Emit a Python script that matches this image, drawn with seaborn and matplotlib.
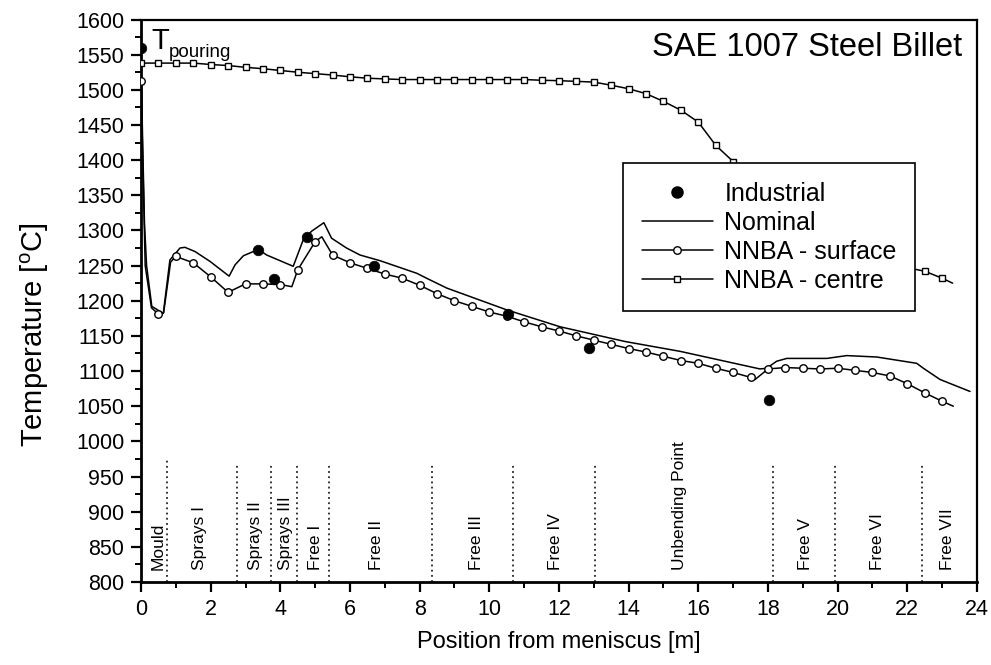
import numpy as np
import pandas as pd
import matplotlib
matplotlib.use("Agg")
import matplotlib.pyplot as plt
from matplotlib.lines import Line2D
import seaborn as sns

# ---------------- data ----------------
industrial_x = [0.0, 3.37, 3.82, 4.77, 6.70, 10.53, 12.85, 18.04]
industrial_T = [1559, 1272, 1231, 1290, 1250, 1181, 1133, 1059]

nominal_x = [0.0, 0.05, 0.10, 0.16, 0.31, 0.64, 0.83, 1.12, 1.26, 1.55, 1.98, 2.53,
             2.70, 2.94, 3.37, 3.61, 4.37, 4.66, 4.90, 5.25, 5.47, 5.90, 6.29, 6.86,
             7.92, 8.20, 8.78, 10.50, 12.03, 13.90, 15.48, 17.77, 17.96, 18.25, 18.54,
             19.69, 20.26, 21.12, 22.27, 22.46, 22.94, 23.80]
nominal_T = [1540, 1420, 1310, 1250, 1192, 1182, 1258, 1275, 1276, 1270, 1256, 1235,
             1251, 1264, 1273, 1265, 1249, 1287, 1299, 1311, 1289, 1275, 1265, 1257,
             1239, 1232, 1218, 1187, 1163, 1142, 1128, 1103, 1104, 1114, 1118,
             1118, 1122, 1120, 1111, 1104, 1088, 1071]

surface_x = [0.0, 0.12, 0.30, 0.5, 0.65, 0.85, 1.0, 1.5, 2.0, 2.5, 3.0, 3.5, 4.0, 4.33,
             4.5, 5.0, 5.19, 5.5, 6.0, 6.5, 7.0, 7.5, 8.0, 8.5, 9.0, 9.5, 10.0, 10.5,
             11.0, 11.5, 12.0, 12.5, 13.0, 13.5, 14.0, 14.5, 15.0, 15.5, 16.0, 16.5,
             17.0, 17.5, 17.63, 18.0, 18.5, 19.0, 19.5, 20.0, 20.5, 21.0, 21.5, 22.0,
             22.5, 23.0, 23.32]
surface_T = [1512, 1250, 1190, 1181, 1183, 1255, 1263, 1254, 1234, 1212, 1224, 1224, 1223, 1220,
             1244, 1284, 1291, 1265, 1254, 1246, 1238, 1232, 1222, 1210, 1200, 1192, 1184, 1178,
             1170, 1163, 1157, 1150, 1144, 1138, 1132, 1127, 1121, 1115, 1111, 1104,
             1098, 1091, 1088, 1103, 1105, 1104, 1103, 1104, 1101, 1098, 1093, 1082,
             1069, 1057, 1050]

centre_x = [0.0, 0.5, 1.0, 1.5, 2.0, 2.5, 3.0, 3.5, 4.0, 4.5, 5.0, 5.5, 6.0, 6.5, 7.0,
            7.5, 8.0, 8.5, 9.0, 9.5, 10.0, 10.5, 11.0, 11.5, 12.0, 12.5, 13.0, 13.5,
            14.0, 14.5, 15.0, 15.5, 16.0, 16.5, 17.0, 17.5, 18.0, 18.5, 19.0, 19.5,
            20.0, 20.5, 21.0, 21.5, 22.0, 22.5, 23.0, 23.3]
centre_T = [1538, 1538, 1538, 1538, 1536, 1534.5, 1532, 1530, 1527.5, 1525, 1523, 1521,
            1518.5, 1516.5, 1515.5, 1514.6, 1514.6, 1514.6, 1514.6, 1514.6, 1514.6, 1514.6,
            1514.6, 1513.6, 1513, 1512, 1511, 1506.5, 1501.5, 1494.5, 1483.5, 1471, 1454,
            1421, 1398, 1370, 1345, 1322, 1303, 1288, 1276, 1266, 1258, 1252, 1247, 1242,
            1232, 1225]

zone_bounds = [0.76, 2.77, 3.72, 4.47, 5.40, 8.36, 10.69, 13.02, 18.14, 19.93, 22.43]
zone_labels = ["Mould", "Sprays I", "Sprays II", "Sprays III", "Free I", "Free II",
               "Free III", "Free IV", "Unbending Point", "Free V", "Free VI", "Free VII"]
zone_label_x = [0.50, 1.69, 3.30, 4.16, 5.01, 6.77, 9.64, 11.89, 15.46, 19.08, 21.15, 23.16]

# ---------------- style ----------------
sns.set_theme(style="ticks")
plt.rcParams["font.family"] = ["Liberation Sans", "DejaVu Sans"]
plt.rcParams["mathtext.fontset"] = "custom"
plt.rcParams["mathtext.rm"] = "Liberation Sans"
plt.rcParams["mathtext.it"] = "Liberation Sans:italic"
plt.rcParams["text.color"] = "black"
plt.rcParams["axes.labelcolor"] = "black"
plt.rcParams["xtick.color"] = "black"
plt.rcParams["ytick.color"] = "black"
plt.rcParams["axes.edgecolor"] = "black"

fig = plt.figure(figsize=(9.91, 6.65), dpi=100)
ax = fig.add_axes([141 / 991, 1 - 582 / 665, 836 / 991, 562.5 / 665])

df_nom = pd.DataFrame({"x": nominal_x, "T": nominal_T})
df_sur = pd.DataFrame({"x": surface_x, "T": surface_T})
df_cen = pd.DataFrame({"x": centre_x, "T": centre_T})
df_ind = pd.DataFrame({"x": industrial_x, "T": industrial_T})

lw = 1.1
circ_ms = 5.4
sq_ms = 4.7
sns.lineplot(data=df_nom, x="x", y="T", ax=ax, color="black", linewidth=lw,
             sort=False, estimator=None)
sns.lineplot(data=df_sur, x="x", y="T", ax=ax, color="black", linewidth=lw,
             sort=False, estimator=None)
sns.lineplot(data=df_cen, x="x", y="T", ax=ax, color="black", linewidth=lw,
             sort=False, estimator=None)

sur_mark = df_sur[np.isclose(df_sur["x"] * 2, np.round(df_sur["x"] * 2)) & (df_sur["x"] <= 23.0)]
cen_mark = df_cen[np.isclose(df_cen["x"] * 2, np.round(df_cen["x"] * 2)) & (df_cen["x"] <= 23.0)]
ax.plot(sur_mark["x"], sur_mark["T"], linestyle="none", marker="o", markersize=circ_ms,
        markerfacecolor="white", markeredgecolor="black", markeredgewidth=1.0, zorder=3)
ax.plot(cen_mark["x"], cen_mark["T"], linestyle="none", marker="s", markersize=sq_ms,
        markerfacecolor="white", markeredgecolor="black", markeredgewidth=1.0, zorder=3)
sns.scatterplot(data=df_ind, x="x", y="T", ax=ax, color="black", s=58,
                edgecolor="black", linewidth=0.5, zorder=4)

# zone dividers and labels
for i, xb in enumerate(zone_bounds):
    top = 976 if i == 0 else 969
    ax.plot([xb, xb], [800, top], linestyle=(0, (1.2, 2.2)), color="black", linewidth=1.1)
for xl, lab in zip(zone_label_x, zone_labels):
    ax.text(xl, 817, lab, rotation=90, ha="center", va="bottom", fontsize=12.5)

# annotations
ax.text(0.30, 1558.7, "T", fontsize=21, ha="left", va="baseline")
ax.text(0.80, 1547, "pouring", fontsize=13.5, ha="left", va="baseline")
ax.text(23.57, 1548, "SAE 1007 Steel Billet", fontsize=23.5, ha="right", va="baseline")

# axes
ax.set_xlim(0, 24)
ax.set_ylim(800, 1600)
ax.set_xticks(np.arange(0, 25, 2))
ax.set_xticks(np.arange(0, 25, 1), minor=True)
ax.set_yticks(np.arange(800, 1601, 50))
ax.set_yticks(np.arange(800, 1601, 25), minor=True)
ax.tick_params(axis="both", which="major", direction="out", length=7, width=1.6,
               labelsize=15.5, color="black", labelcolor="black", pad=5)
ax.tick_params(axis="both", which="minor", direction="out", length=4, width=1.4,
               color="black")
ax.set_xlabel("Position from meniscus [m]", fontsize=17, labelpad=8)
ax.set_ylabel(r"Temperature [$^{\mathrm{o}}$C]", fontsize=21)
ax.yaxis.set_label_coords(-0.108, 0.44)
for side in ["left", "bottom"]:
    ax.spines[side].set_linewidth(2.0)
for side in ["top", "right"]:
    ax.spines[side].set_visible(True)
    ax.spines[side].set_linewidth(1.6)
for s in ax.spines.values():
    s.set_color("black")

handles = [
    Line2D([], [], linestyle="none", marker="o", markersize=8, color="black"),
    Line2D([], [], color="black", linewidth=lw),
    Line2D([], [], color="black", linewidth=lw, marker="o", markersize=circ_ms,
           markerfacecolor="white", markeredgecolor="black"),
    Line2D([], [], color="black", linewidth=lw, marker="s", markersize=sq_ms,
           markerfacecolor="white", markeredgecolor="black"),
]
labels = ["Industrial", "Nominal", "NNBA - surface", "NNBA - centre"]
leg = ax.legend(handles, labels, loc="upper left", bbox_to_anchor=(0.5766, 0.7449),
                borderaxespad=0, fontsize=18, frameon=True, fancybox=False,
                framealpha=1, edgecolor="black", handlelength=2.85, handletextpad=0.45,
                borderpad=0.75, labelspacing=0.2, handleheight=0.7)
leg.get_frame().set_linewidth(1.2)
leg.set_zorder(10)
for t in leg.get_texts():
    t.set_color("black")

fig.savefig("out.png", dpi=100)
